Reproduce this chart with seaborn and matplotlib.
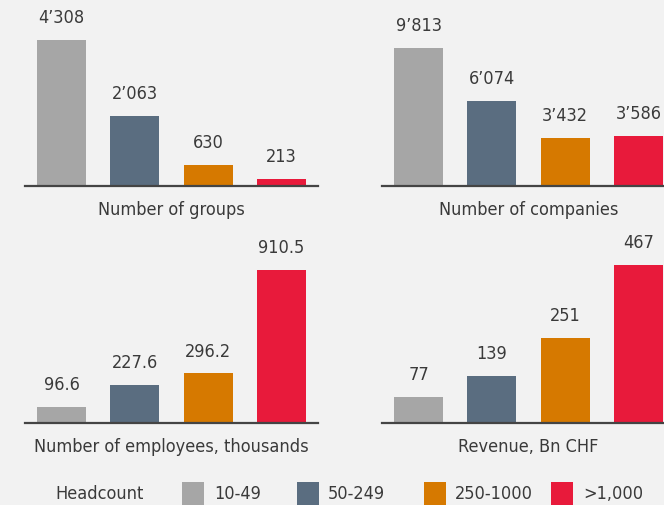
import matplotlib
matplotlib.use("Agg")
import matplotlib.pyplot as plt
from matplotlib.patches import Rectangle
import seaborn as sns
import pandas as pd

# Headcount classes and their colours
classes = ["10-49", "50-249", "250-1000", ">1,000"]
colors = ["#a6a6a6", "#5a6d80", "#d67900", "#e81a3b"]

# Panel values
groups = [4308, 2063, 630, 213]
companies = [9813, 6074, 3432, 3586]
employees = [96.6, 227.6, 296.2, 910.5]
revenue = [77, 139, 251, 467]

titles = ["Number of groups", "Number of companies",
          "Number of employees, thousands", "Revenue, Bn CHF"]

BG = "#f2f2f2"
TXT = "#3a3a3a"
FS = 13

sns.set_style("white", {"axes.facecolor": BG, "figure.facecolor": BG})
plt.rcParams["font.family"] = ["DejaVu Sans"]
plt.rcParams["font.stretch"] = "condensed"

W, H = 664, 505
fig = plt.figure(figsize=(W / 100, H / 100), dpi=100)
fig.patch.set_facecolor(BG)


def fmt_thousands(v):
    return f"{int(v):,}".replace(",", "\u2019")


def fmt_one(v):
    return f"{v:.1f}"


def fmt_int(v):
    return f"{int(v)}"


# (values, title, left px, baseline px, fill fraction, formatter)
panels = [
    (groups, titles[0], 25, 186, 0.83, fmt_thousands),
    (companies, titles[1], 382, 186, 0.784, fmt_thousands),
    (employees, titles[2], 25, 423, 0.87, fmt_one),
    (revenue, titles[3], 382, 423, 0.90, fmt_int),
]

AX_W, AX_H = 293, 176

for vals, title, left, base, frac, fmt in panels:
    ax = fig.add_axes([left / W, (H - base) / H, AX_W / W, AX_H / H])
    df = pd.DataFrame({"cls": classes, "val": vals})
    sns.barplot(data=df, x="cls", y="val", hue="cls", palette=colors,
                order=classes, hue_order=classes, width=0.67,
                legend=False, ax=ax, saturation=1, linewidth=0)
    ax.set_xlim(-0.5, 3.5)
    ax.set_ylim(0, max(vals) / frac)
    ax.set_facecolor(BG)
    for s in ["top", "left", "right"]:
        ax.spines[s].set_visible(False)
    ax.spines["bottom"].set_color("#444444")
    ax.spines["bottom"].set_linewidth(1.6)
    ax.set_xticks([])
    ax.set_yticks([])
    ax.set_xlabel("")
    ax.set_ylabel("")
    for i, v in enumerate(vals):
        ax.annotate(fmt(v), xy=(i, v), xytext=(0, 15.6),
                    textcoords="offset points", ha="center", va="center",
                    fontsize=FS, color=TXT, annotation_clip=False)
    ax.annotate(title, xy=(0.5, 0), xycoords="axes fraction",
                xytext=(0, -17.3), textcoords="offset points",
                ha="center", va="center", fontsize=FS, color=TXT)

# Legend row along the bottom edge
leg_y = 494
fig.text(55 / W, (H - leg_y) / H, "Headcount", ha="left", va="center",
         fontsize=FS, color=TXT)
sq_x = [182, 297, 424, 551]
txt_x = [214, 328, 455, 583]
for x, tx, c, lab in zip(sq_x, txt_x, colors, classes):
    fig.patches.append(Rectangle((x / W, 0), 22 / W, (H - 482) / H,
                                 transform=fig.transFigure, facecolor=c,
                                 edgecolor="none", zorder=3))
    fig.text(tx / W, (H - leg_y) / H, lab, ha="left", va="center",
             fontsize=FS, color=TXT)

fig.savefig("out.png", dpi=100, facecolor=BG)
